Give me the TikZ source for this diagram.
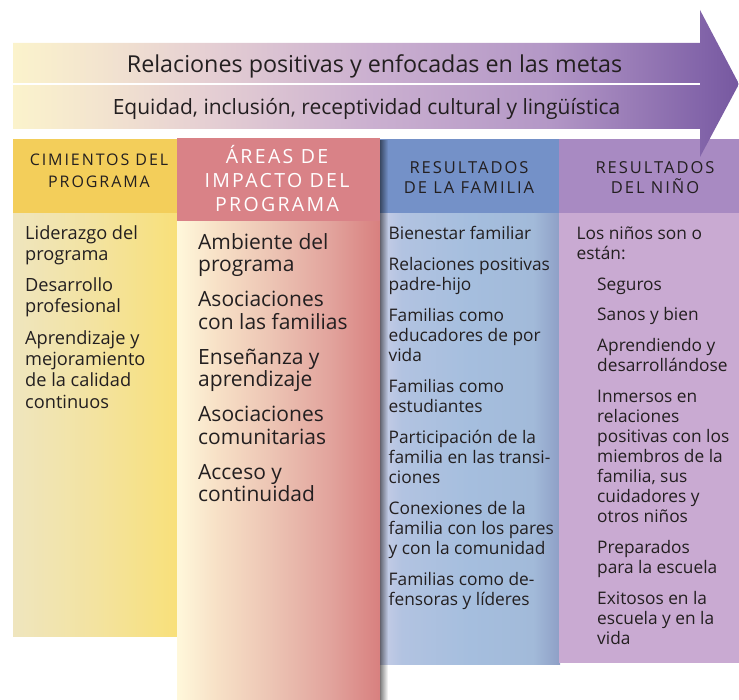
\documentclass[tikz,border=0pt]{standalone}
\usepackage{fontspec}
\setmainfont{Open Sans}
\newfontfamily\capsfont[LetterSpace=12]{Open Sans}
\usetikzlibrary{positioning}

\definecolor{ink}{HTML}{231F20}
\definecolor{cimhead}{HTML}{F3CE5A}
\definecolor{imphead}{HTML}{D98287}
\definecolor{famhead}{HTML}{7491C8}
\definecolor{ninhead}{HTML}{A88AC2}
\definecolor{ninbody}{HTML}{C9AAD2}

% the path box is mapped to 25bp--75bp of a shading
\pgfdeclarehorizontalshading{arrowshade}{100bp}{color(0bp)=(rgb,255:red,251;green,243;blue,204);
  color(25bp)=(rgb,255:red,251;green,243;blue,204); color(31bp)=(rgb,255:red,243;green,228;blue,207);
  color(38bp)=(rgb,255:red,230;green,208;blue,211); color(49.5bp)=(rgb,255:red,203;green,176;blue,208);
  color(62bp)=(rgb,255:red,179;green,151;blue,198); color(72.5bp)=(rgb,255:red,130;green,100;blue,169);
  color(75bp)=(rgb,255:red,118;green,88;blue,160); color(100bp)=(rgb,255:red,118;green,88;blue,160)}
\pgfdeclarehorizontalshading{cimshade}{100bp}{color(0bp)=(rgb,255:red,239;green,229;blue,190);
  color(25bp)=(rgb,255:red,239;green,229;blue,190); color(50bp)=(rgb,255:red,243;green,227;blue,160);
  color(75bp)=(rgb,255:red,248;green,224;blue,122); color(100bp)=(rgb,255:red,248;green,224;blue,122)}
\pgfdeclarehorizontalshading{impshade}{100bp}{color(0bp)=(rgb,255:red,255;green,248;blue,219);
  color(25bp)=(rgb,255:red,255;green,248;blue,219); color(35bp)=(rgb,255:red,247;green,224;blue,198);
  color(47.5bp)=(rgb,255:red,237;green,198;blue,181); color(62.5bp)=(rgb,255:red,226;green,164;blue,157);
  color(75bp)=(rgb,255:red,216;green,128;blue,127); color(100bp)=(rgb,255:red,216;green,128;blue,127)}
\pgfdeclarehorizontalshading{famshade}{100bp}{color(0bp)=(rgb,255:red,200;green,206;blue,231);
  color(25bp)=(rgb,255:red,200;green,206;blue,231); color(31bp)=(rgb,255:red,178;green,195;blue,225);
  color(50bp)=(rgb,255:red,165;green,190;blue,222); color(67.5bp)=(rgb,255:red,162;green,186;blue,217);
  color(75bp)=(rgb,255:red,142;green,159;blue,198); color(100bp)=(rgb,255:red,142;green,159;blue,198)}

\begin{document}
\begin{tikzpicture}[x=1pt, y=-1pt,
    head/.style={anchor=base, align=center, inner sep=0pt, text=ink},
    body/.style={anchor=base west, align=left, inner sep=0pt, text=ink},
  ]
  \useasboundingbox (0,0) rectangle (739,700);

  % columns
  \shade[shading=cimshade] (13,213) rectangle (177,636);
  \fill[cimhead] (13,139) rectangle (177,213);
  \shade[shading=famshade] (380,213) rectangle (560,664);
  \fill[famhead] (380,139) rectangle (560,213);
  \fill[ninbody] (559,213) rectangle (739,663);
  \fill[ninhead] (559,139) rectangle (739,213);
  \shade[shading=impshade] (177,221) rectangle (380,700);
  \fill[imphead] (177,138) rectangle (380,221);
  \foreach \i in {0,...,7}
    \fill[black, opacity={0.5*(1-\i/8)}] (380+\i,140) rectangle ++(1,560);

  % arrow
  \shade[shading=arrowshade] (13,43) -- (700,43) -- (700,10) -- (739,84) -- (700,157)
    -- (700,129) -- (13,129) -- cycle;
  \draw[white, line width=1.6pt] (13,84) -- (700,84);

  \node[head, font=\fontsize{23.3}{26}\selectfont] (metas) at (374.5,72.7)
    {Relaciones positivas y enfocadas en las metas};
  \node[head, font=\fontsize{21}{24}\selectfont] (equidad) at (366.5,115)
    {Equidad, inclusión, receptividad cultural y lingüística};

  % headers (placed at the last baseline)
  \node[head, font=\capsfont\fontsize{16}{21.3}\selectfont] (hcim) at (99,187.3)
    {CIMIENTOS DEL\\PROGRAMA};
  \node[head, text=white, font=\capsfont\fontsize{19.5}{24.2}\selectfont] (himp) at (277,211.7)
    {ÁREAS DE\\IMPACTO DEL\\PROGRAMA};
  \node[head, font=\capsfont\fontsize{16.5}{20.7}\selectfont] (hfam) at (469,194)
    {RESULTADOS\\DE LA FAMILIA};
  \node[head, font=\capsfont\fontsize{16.5}{20.7}\selectfont] (hnin) at (655,194)
    {RESULTADOS\\DEL NIÑO};

  % contents (placed at the last baseline)
  \node[body, font=\fontsize{18.2}{21.3}\selectfont] (bcim) at (25,408.1)
    {Liderazgo del\\programa\\[10pt]Desarrollo\\profesional\\[10pt]Aprendizaje y\\mejoramiento\\de la calidad\\continuos};
  \node[body, font=\fontsize{21}{22.5}\selectfont] (bimp) at (198,501.8)
    {Ambiente del\\programa\\[12.5pt]Asociaciones\\con las familias\\[12.5pt]Enseñanza y\\aprendizaje\\[12.5pt]Asociaciones\\comunitarias\\[12.5pt]Acceso y\\continuidad};
  \node[body, font=\fontsize{17.3}{20}\selectfont] (bfam) at (388.5,605.3)
    {Bienestar familiar\\[11pt]Relaciones positivas\\padre-hijo\\[11pt]Familias como\\educadores de por\\vida\\[11pt]Familias como\\estudiantes\\[11pt]Participación de la\\familia en las transi-\\ciones\\[11pt]Conexiones de la\\familia con los pares\\y con la comunidad\\[11pt]Familias como de-\\fensoras y líderes};
  \node[body, font=\fontsize{17.3}{20}\selectfont] (bnin) at (576.5,259.3)
    {Los niños son o\\están:};
  \node[body, font=\fontsize{17.3}{20}\selectfont] (lnin) at (597,644)
    {Seguros\\[10.8pt]Sanos y bien\\[10.8pt]Aprendiendo y\\desarrollándose\\[10.8pt]Inmersos en\\relaciones\\positivas con los\\miembros de la\\familia, sus\\cuidadores y\\otros niños\\[10.8pt]Preparados\\para la escuela\\[10.8pt]Exitosos en la\\escuela y en la\\vida};
\end{tikzpicture}
\end{document}
